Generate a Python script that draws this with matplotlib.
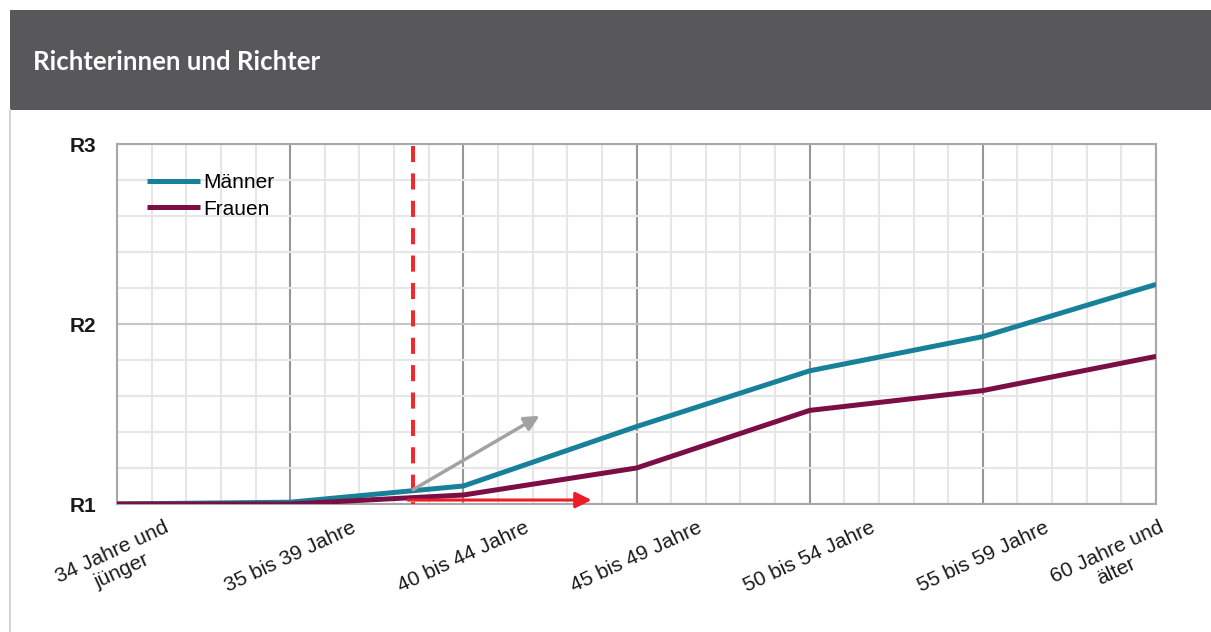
import matplotlib.pyplot as plt
from matplotlib.patches import Rectangle
from matplotlib.lines import Line2D
from matplotlib.ticker import MultipleLocator
import matplotlib.transforms as mtransforms

# data
categories = ['34 Jahre und\njünger', '35 bis 39 Jahre', '40 bis 44 Jahre', '45 bis 49 Jahre',
              '50 bis 54 Jahre', '55 bis 59 Jahre', '60 Jahre und\nälter']
maenner = [1.0, 1.01, 1.10, 1.43, 1.74, 1.93, 2.22]
frauen = [1.0, 1.0, 1.05, 1.20, 1.52, 1.63, 1.82]
y_ticks = [1, 2, 3]
y_labels = ['R1', 'R2', 'R3']

# annotations (in category / R units)
marker_x = 1.71
gray_arrow = ((1.71, 1.08), (2.44, 1.49))
red_arrow = ((1.68, 1.022), (2.74, 1.022))

W, H = 1211, 632
fig = plt.figure(figsize=(W / 100, H / 100), dpi=100)
fig.patch.set_facecolor('white')

# title bar and left border
fig.patches.append(Rectangle((10 / W, (H - 110) / H), 1 - 10 / W, 100 / H,
                             transform=fig.transFigure, facecolor='#58585a', edgecolor='none'))
fig.lines.append(Line2D([10 / W, 10 / W], [0, (H - 110) / H], transform=fig.transFigure,
                        color='#d4d4d4', lw=1.5))
fig.text(33 / W, (H - 62) / H, 'Richterinnen und Richter', color='white',
         fontsize=18.5, fontweight='bold', family='Lato', va='center', ha='left')

ax = fig.add_axes([117 / W, (H - 504) / H, 1039 / W, 360 / H])
x = list(range(len(categories)))

ax.set_xlim(0, len(categories) - 1)
ax.set_ylim(1, 3)

# grid
ax.xaxis.set_minor_locator(MultipleLocator(0.2))
ax.yaxis.set_minor_locator(MultipleLocator(0.2))
ax.grid(which='minor', color='#e6e6e6', lw=1.5, zorder=0)
ax.grid(which='major', axis='x', color='#979797', lw=1.5, zorder=0.5)
ax.grid(which='major', axis='y', color='#c6c6c6', lw=1.5, zorder=0.5)
ax.set_axisbelow(True)
for s in ax.spines.values():
    s.set_color('#a8a8a8')
    s.set_linewidth(1.5)

ax.plot(x, maenner, color='#17819a', lw=3.6, solid_joinstyle='round',
        solid_capstyle='butt', label='Männer', zorder=3)
ax.plot(x, frauen, color='#7b0e45', lw=3.6, solid_joinstyle='round',
        solid_capstyle='butt', label='Frauen', zorder=3)

# marker line (drawn top-down so a dash starts at the top) and arrows
ax.plot([marker_x, marker_x], [2.99, 1.0], color='#ee2a30', lw=2.9,
        linestyle=(0, (4, 2.8)), zorder=4)
ax.annotate('', xy=gray_arrow[1], xytext=gray_arrow[0],
            arrowprops=dict(arrowstyle='-|>', color='#a2a2a2', lw=2.5,
                            mutation_scale=22, shrinkA=0, shrinkB=0), zorder=4)
ax.annotate('', xy=red_arrow[1], xytext=red_arrow[0],
            arrowprops=dict(arrowstyle='-|>', color='#ee1c25', lw=2.2,
                            mutation_scale=24, shrinkA=0, shrinkB=0), zorder=4)

# ticks
ax.set_xticks(x)
ax.set_xticklabels(categories, rotation=25, ha='center', va='top', ma='center',
                   fontsize=15, family='Liberation Sans', color='#1a1a1a',
                   linespacing=1.15)
ax.set_yticks(y_ticks)
ax.set_yticklabels(y_labels, fontsize=15, fontweight='bold',
                   family='Liberation Sans', color='#1a1a1a')
ax.tick_params(which='both', length=0)
ax.tick_params(axis='x', pad=10)
ax.tick_params(axis='y', pad=15)

# Excel pulls the last label inside the plot
last = ax.get_xticklabels()[-1]
last.set_transform(last.get_transform() +
                   mtransforms.ScaledTranslation(-44 / 100, 0, fig.dpi_scale_trans))

ax.legend(loc='upper left', bbox_to_anchor=(0.029, 0.92), frameon=False,
          prop={'family': 'Liberation Sans', 'size': 15}, handlelength=2.55,
          handletextpad=0.15, borderpad=0, borderaxespad=0, labelspacing=0.38)

fig.savefig('out.png', dpi=100)
